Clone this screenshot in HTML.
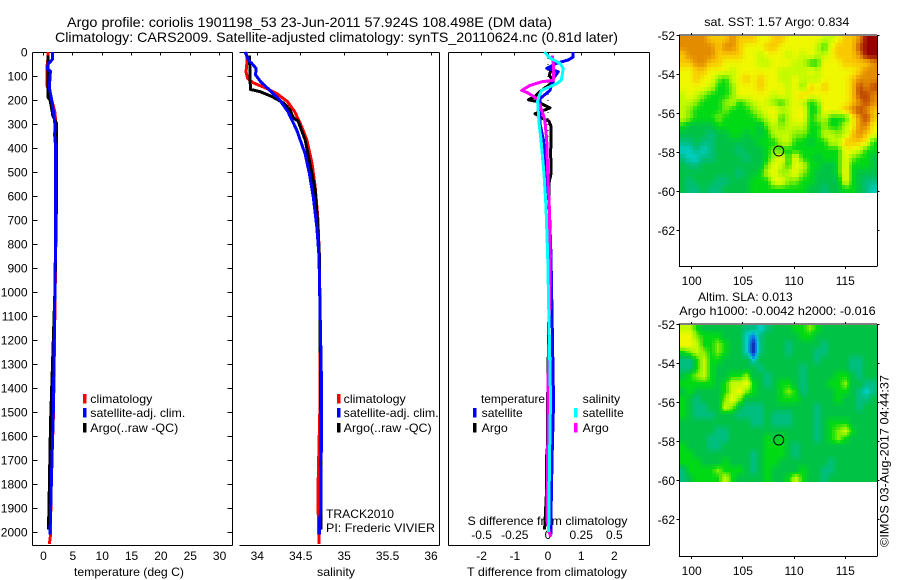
<!DOCTYPE html>
<html lang="en">
<head>
<meta charset="utf-8">
<title>Argo profile 1901198_53</title>
<style>
html,body{margin:0;padding:0;background:#fff;}
svg{display:block;}
text{font-family:"Liberation Sans",sans-serif;font-size:12px;fill:#000;}
.title{font-size:14px;}
</style>
</head>
<body>
<svg id="chart" xmlns="http://www.w3.org/2000/svg" width="900" height="580" viewBox="0 0 900 580">
  <text class="title" x="67" y="27" textLength="485" lengthAdjust="spacingAndGlyphs">Argo profile: coriolis 1901198_53 23-Jun-2011 57.924S 108.498E (DM data)</text>
  <text class="title" x="55" y="42" textLength="563" lengthAdjust="spacingAndGlyphs">Climatology: CARS2009. Satellite-adjusted climatology: synTS_20110624.nc (0.81d later)</text>

  <text x="74" y="576" textLength="110" lengthAdjust="spacingAndGlyphs">temperature (deg C)</text>
  <text x="317" y="576" textLength="38" lengthAdjust="spacingAndGlyphs">salinity</text>
  <text x="467" y="576" textLength="160" lengthAdjust="spacingAndGlyphs">T difference from climatology</text>
  <text x="467.5" y="525" textLength="160" lengthAdjust="spacingAndGlyphs">S difference from climatology</text>

  <text x="90.3" y="403" textLength="62" lengthAdjust="spacingAndGlyphs">climatology</text>
  <text x="90.3" y="417" textLength="95" lengthAdjust="spacingAndGlyphs">satellite-adj. clim.</text>
  <text x="90.3" y="432" textLength="88" lengthAdjust="spacingAndGlyphs">Argo(..raw -QC)</text>
  <rect x="83" y="394" width="3.5" height="9.5" fill="#f00"/>
  <rect x="83" y="408" width="3.5" height="9.5" fill="#00f"/>
  <rect x="83" y="423" width="3.5" height="9.5" fill="#000"/>

  <text x="343.7" y="403" textLength="62" lengthAdjust="spacingAndGlyphs">climatology</text>
  <text x="343.7" y="417" textLength="95" lengthAdjust="spacingAndGlyphs">satellite-adj. clim.</text>
  <text x="343.7" y="432" textLength="88" lengthAdjust="spacingAndGlyphs">Argo(..raw -QC)</text>
  <rect x="337" y="394" width="3.5" height="9.5" fill="#f00"/>
  <rect x="337" y="408" width="3.5" height="9.5" fill="#00f"/>
  <rect x="337" y="423" width="3.5" height="9.5" fill="#000"/>

  <text x="326" y="518" textLength="68" lengthAdjust="spacingAndGlyphs">TRACK2010</text>
  <text x="326" y="532" textLength="109" lengthAdjust="spacingAndGlyphs">PI: Frederic VIVIER</text>

  <text x="481" y="403" textLength="64" lengthAdjust="spacingAndGlyphs">temperature</text>
  <text x="481.7" y="417" textLength="41" lengthAdjust="spacingAndGlyphs">satellite</text>
  <text x="481.7" y="432" textLength="26" lengthAdjust="spacingAndGlyphs">Argo</text>
  <rect x="473" y="408" width="3.5" height="9.5" fill="#00f"/>
  <rect x="473" y="423" width="3.5" height="9.5" fill="#000"/>
  <text x="582.7" y="403" textLength="37.5" lengthAdjust="spacingAndGlyphs">salinity</text>
  <text x="582.7" y="417" textLength="41" lengthAdjust="spacingAndGlyphs">satellite</text>
  <text x="582.7" y="432" textLength="26" lengthAdjust="spacingAndGlyphs">Argo</text>
  <rect x="574" y="408" width="3.5" height="9.5" fill="#0ff"/>
  <rect x="574" y="423" width="3.5" height="9.5" fill="#f0f"/>

  <text x="704.3" y="26" textLength="145" lengthAdjust="spacingAndGlyphs">sat. SST: 1.57 Argo: 0.834</text>
  <text x="698" y="301" textLength="94.7" lengthAdjust="spacingAndGlyphs">Altim. SLA: 0.013</text>
  <text x="679.3" y="315" textLength="196.4" lengthAdjust="spacingAndGlyphs">Argo h1000: -0.0042 h2000: -0.016</text>
  <text transform="translate(888.5,547) rotate(-90)" textLength="172" lengthAdjust="spacingAndGlyphs">©IMOS 03-Aug-2017 04:44:37</text>
</svg>
<script>
// ---------- shared axis tick data ----------
const depthTicks = [0,100,200,300,400,500,600,700,800,900,1000,1100,1200,1300,1400,1500,1600,1700,1800,1900,2000];
const tempTicks = [0,5,10,15,20,25,30];
const salTicks = [34,34.5,35,35.5,36];
const salTickLabels = ['34','34.5','35','35.5','36'];
const tDiffTicks = [-2,-1,0,1,2];
const sDiffTicks = [-0.5,-0.25,0,0.25,0.5];
const sDiffTickLabels = ['-0.5','-0.25','0','0.25','0.5'];
const lonTicks = [100,105,110,115];
const latTicks = [-52,-54,-56,-58,-60,-62];

// ---------- temperature profiles ----------
const tempClimDepth = [0,20,60,140,200,250,300,400,800,1500,1800,2000,2020,2050];
const tempClimValue = [0.8,0.8,0.6,0.6,1.4,1.95,2.1,2.2,2.1,1.7,1.3,1.2,1.15,1.0];
const tempArgoDepth = [15,100,190,200,250,260,300,640,1000,1550,1800,1990];
const tempArgoValue = [0.8,0.8,0.8,1.1,1.5,1.5,2.25,2.2,1.95,1.2,1.0,0.85];
const tempSatDepth = [0,30,50,70,80,100,150,200,250,300,350,400,800,1500,1650,1850,2010];
const tempSatValue = [1.55,1.55,0.8,0.65,1.2,1.1,1.0,1.4,1.7,1.95,1.9,2.07,2.05,1.67,1.5,1.28,1.1];

// ---------- salinity profiles ----------
const salClimDepth = [0,33,82,110,128,137,151,172,206,248,310,366,463,560,685,850,1000,1500,1800,1900,2050];
const salClimValue = [33.87,33.885,33.87,33.89,33.95,34.01,34.10,34.22,34.345,34.43,34.51,34.57,34.63,34.665,34.695,34.715,34.72,34.72,34.70,34.70,34.71];
const salArgoDepth = [15,156,165,185,212,240,274,288,366,435,573,712,850,1650,1990];
const salArgoValue = [33.91,33.92,34.03,34.165,34.30,34.375,34.415,34.47,34.55,34.59,34.665,34.695,34.715,34.735,34.735];
const salSatDepth = [0,33,47,68,96,124,160,201,250,326,424,507,604,729,850,1400,1650,1700,1900,1950,2010];
const salSatValue = [33.86,33.895,33.935,33.985,33.98,34.04,34.145,34.26,34.355,34.455,34.55,34.60,34.645,34.685,34.71,34.74,34.74,34.73,34.735,34.715,34.715];

// ---------- difference profiles ----------
const zeroLineDepth = [0,2050];
const zeroLineValue = [0,0];
const tDiffArgoDepth = [37,68,96,124,165,185,199,206,233,257,275,288,310,424,507,546,850,1550,1650,1700,1850,1980,1990];
const tDiffArgoValue = [0.2,0.11,0.04,0.16,-0.24,-0.39,-0.59,-0.34,0.06,-0.39,-0.19,0.03,0.09,0.08,0.09,0.03,0.05,-0.02,-0.02,-0.05,-0.05,-0.1,-0.1];
const tDiffSatDepth = [0,21,33,47,68,82,110,160,194,299,366,507,646,850,1400,1500,1650,1850,2010];
const tDiffSatValue = [0.76,0.76,0.61,0.26,-0.04,0.31,0.16,0.06,-0.24,-0.24,-0.14,-0.04,0.04,0.09,0.16,0.16,0.13,0.1,0.09];
const sDiffArgoDepth = [15,65,118,124,139,160,171,194,222,264,285,366,507,646,850,1400,1550,1950,2000,2020];
const sDiffArgoValue = [0.033,0.043,0.04,-0.048,-0.135,-0.198,-0.15,-0.085,-0.06,-0.035,-0.023,-0.01,-0.002,0.01,0.017,0,0,-0.008,0.01,0.02];
const sDiffSatDepth = [0,25,47,68,118,132,160,180,206,299,366,507,646,850,1400,1500,1650,1900,2000];
const sDiffSatValue = [-0.028,0.015,0.09,0.115,0.10,0.065,-0.048,-0.065,-0.078,-0.067,-0.053,-0.03,-0.015,-0.002,0.017,0.017,0.013,0.007,0.005];

// ---------- map grids: 28 columns, 20 rows, north to south (colour-scale units) ----------
const sstGrid = [
[8,8,8,8,7,7,7,8,7,7,7,6,6,7,7,6,6,6,6,6,5,5,6,7,7,8,10,10],
[8,8,8,8,8,7,8,8,7,6,6,6,7,7,6,6,6,6,6,5,3,6,7,7,7,9,10,10],
[7,8,8,8,8,7,7,7,7,6,6,5,6,6,6,5,6,5,6,5,5,6,7,7,7,8,10,10],
[7,7,8,8,7,7,6,6,6,6,6,5,5,6,6,6,5,5,3,3,6,6,6,7,7,7,7,8],
[6,6,7,7,6,6,6,5,6,6,6,6,6,6,5,5,5,5,6,5,6,6,6,6,6,7,8,8],
[6,6,7,6,6,4,3,5,6,7,6,7,6,6,5,5,6,5,5,5,6,6,6,6,7,8,8,8],
[6,6,6,6,5,3,3,4,6,6,6,7,6,6,6,5,6,4,7,6,7,6,6,6,7,9,8,9],
[5,6,5,4,3,3,3,4,6,6,6,6,6,5,6,5,6,7,6,6,6,6,6,6,7,9,9,8],
[5,5,4,3,3,3,4,5,3,4,5,6,5,4,3,5,6,5,3,4,6,6,6,6,7,8,9,8],
[5,4,3,3,3,3,4,3,3,3,4,5,6,6,5,5,6,6,3,3,6,6,6,7,8,9,8,7],
[5,4,3,3,3,4,3,3,3,3,3,4,5,6,3,5,6,6,3,4,5,3,3,3,6,8,9,7],
[3,2,2,2,2,3,3,3,3,3,3,2,4,5,4,5,5,5,3,3,4,3,3,5,6,8,8,6],
[2,2,2,2,1,2,2,3,3,2,3,2,3,5,5,5,4,4,3,3,5,5,4,5,7,8,7,6],
[1,1,2,1,1,2,2,2,2,2,2,3,3,3,5,5,3,3,2,3,3,5,5,7,7,7,6,3],
[0,0,1,0,1,2,2,2,1,2,2,2,3,4,3,3,3,3,3,3,3,3,3,6,6,5,3,3],
[1,0,0,1,1,2,2,2,2,1,2,2,3,5,6,3,6,3,3,2,3,3,3,6,4,3,3,2],
[2,1,1,2,2,2,2,2,2,2,2,2,4,6,5,3,6,5,3,3,2,2,3,6,3,3,3,2],
[2,2,2,2,2,2,2,2,1,2,2,3,5,6,4,5,6,4,3,2,2,2,3,6,3,2,2,2],
[2,1,2,2,2,1,1,2,2,2,3,3,3,6,6,4,4,3,3,2,2,2,2,6,3,2,1,1],
[2,1,1,2,1,1,2,2,2,2,3,3,3,3,3,3,3,3,2,2,1,2,2,3,3,2,1,0]
];
const slaGrid = [
[5,5,3,2,2,2,2,2,2,1,1,0,1,2,2,2,3,3,4,3,2,2,2,2,2,2,2,2],
[6,6,4,3,3,3,2,2,2,0,-1,1,2,2,2,2,2,3,3,2,2,2,2,2,2,2,2,2],
[6,6,5,3,3,4,3,2,2,0,-2,1,2,2,2,1,2,2,2,2,1,2,2,2,2,2,2,2],
[3,4,5,4,3,4,3,2,2,0,-2,1,2,2,2,1,2,2,2,1,1,2,2,2,2,2,2,2],
[1,1,3,5,3,3,2,2,2,2,0,2,2,2,2,2,2,2,2,1,2,2,2,2,1,1,2,2],
[1,1,3,5,3,2,2,2,2,2,2,1,2,2,2,2,2,1,2,2,2,2,2,2,1,1,2,2],
[2,3,4,5,3,2,2,3,3,4,2,2,1,2,2,2,2,1,2,2,2,2,3,3,2,1,2,2],
[3,3,3,3,3,2,3,5,5,6,3,2,1,2,3,3,2,1,2,2,2,3,3,4,2,2,1,1],
[2,3,2,2,2,2,3,5,6,4,3,2,2,2,3,4,3,1,2,2,2,2,3,3,2,1,0,1],
[3,2,1,2,2,2,4,6,4,2,2,2,2,2,3,3,3,2,2,2,2,2,3,2,2,1,1,2],
[3,2,1,1,2,2,5,4,2,1,1,1,2,2,2,2,2,2,2,1,2,2,2,2,2,1,2,2],
[3,2,1,1,1,2,2,2,1,1,1,1,2,1,1,1,2,2,2,1,2,2,2,2,2,2,2,2],
[2,2,2,2,2,2,2,2,2,2,1,1,2,1,1,1,2,2,2,1,2,3,3,3,2,2,2,2],
[2,2,2,2,2,1,1,2,2,2,2,2,2,2,2,2,2,2,2,1,2,3,4,5,3,2,2,2],
[2,2,2,2,1,1,1,2,2,2,2,2,3,2,3,2,2,2,2,1,2,3,4,3,2,2,2,2],
[3,2,2,2,1,1,2,2,2,2,2,2,3,3,3,2,1,2,2,2,2,2,2,2,2,2,2,2],
[3,3,2,2,2,2,2,2,2,2,1,2,3,3,3,2,1,2,2,2,2,2,2,2,2,2,2,2],
[3,3,3,2,2,2,3,2,2,2,1,2,3,3,2,2,2,2,2,2,2,1,2,2,2,2,2,2],
[1,3,3,3,3,4,3,3,3,2,1,2,3,2,2,2,2,3,2,2,1,1,2,2,2,2,2,2],
[1,2,3,3,3,3,5,3,2,2,2,2,3,2,2,3,5,3,2,2,1,2,2,2,2,2,2,2]
];
const argoLon = 108.498;
const argoLat = -57.924;

// ---------- drawing ----------
const svg = document.getElementById('chart');
const NS = 'http://www.w3.org/2000/svg';

function shape(tag, attrs) {
  const el = document.createElementNS(NS, tag);
  for (const k in attrs) el.setAttribute(k, attrs[k]);
  svg.appendChild(el);
  return el;
}
function axisLine(name, x1, y1, x2, y2) {
  const el = shape('line', {x1: x1, y1: y1, x2: x2, y2: y2, stroke: '#000', 'stroke-width': 1, 'shape-rendering': 'crispEdges'});
  
  
  return el;
}
function label(name, str, x, y, anchor) {
  const el = shape('text', {x: x, y: y, 'text-anchor': anchor});
  el.textContent = str;
  
  
  return el;
}
function profile(name, depths, values, xScale, color, width, dash) {
  const pts = depths.map((d, i) => xScale(values[i]).toFixed(1) + ',' + yDepth(d).toFixed(1)).join(' ');
  const el = shape('polyline', {points: pts, fill: 'none', stroke: color, 'stroke-width': width, 'stroke-linejoin': 'round', 'shape-rendering': 'crispEdges'});
  if (dash) el.setAttribute('stroke-dasharray', dash);
  
  
  return el;
}

const yDepth = d => 52 + d * 0.24;
const xTemp = t => 43.5 + t * 5.87;
const xSal = s => 257.3 + (s - 34) * 86.85;
const xTDiff = t => 548 + t * 33.2;
const xSDiff = s => 548 + s * 132.8;

const PLOT_TOP = 52.5, PLOT_BOTTOM = 545.5;

// panel 1: temperature
axisLine('temperature-panel-top-axis', 32.5, PLOT_TOP, 232.5, PLOT_TOP);
axisLine('temperature-panel-bottom-axis', 32.5, PLOT_BOTTOM, 232.5, PLOT_BOTTOM);
axisLine('temperature-panel-left-axis', 32.5, PLOT_TOP, 32.5, PLOT_BOTTOM);
axisLine('temperature-panel-right-axis', 232.5, PLOT_TOP, 232.5, PLOT_BOTTOM);
depthTicks.forEach(d => {
  const y = Math.floor(yDepth(d)) + 0.5;
  axisLine('depth-tick-left', 32.5, y, 37.5, y);
  axisLine('depth-tick-right', 227.5, y, 232.5, y);
  label('depth-tick-label', String(d), 27.5, yDepth(d) + 4.5, 'end');
});
tempTicks.forEach(t => {
  const x = Math.floor(xTemp(t)) + 0.5;
  axisLine('temperature-tick', x, PLOT_TOP, x, PLOT_TOP + 3);
  label('temperature-tick-label', String(t), xTemp(t), 560, 'middle');
});
profile('temperature-climatology-line', tempClimDepth, tempClimValue, xTemp, '#f00', 3);
profile('temperature-argo-line', tempArgoDepth, tempArgoValue, xTemp, '#000', 3);
profile('temperature-satellite-line', tempSatDepth, tempSatValue, xTemp, '#00f', 3);

// panel 2: salinity
axisLine('salinity-panel-top-axis', 239.5, PLOT_TOP, 439.5, PLOT_TOP);
axisLine('salinity-panel-bottom-axis', 239.5, PLOT_BOTTOM, 439.5, PLOT_BOTTOM);
axisLine('salinity-panel-right-axis', 439.5, PLOT_TOP, 439.5, PLOT_BOTTOM);
salTicks.forEach((s, i) => {
  const x = Math.floor(xSal(s)) + 0.5;
  axisLine('salinity-tick', x, PLOT_TOP, x, PLOT_TOP + 3);
  label('salinity-tick-label', salTickLabels[i], xSal(s), 560, 'middle');
});
profile('salinity-climatology-line', salClimDepth, salClimValue, xSal, '#f00', 3);
profile('salinity-argo-line', salArgoDepth, salArgoValue, xSal, '#000', 3);
profile('salinity-satellite-line', salSatDepth, salSatValue, xSal, '#00f', 3);

// panel 3: differences
axisLine('difference-panel-top-axis', 448.5, PLOT_TOP, 649.5, PLOT_TOP);
axisLine('difference-panel-bottom-axis', 448.5, PLOT_BOTTOM, 649.5, PLOT_BOTTOM);
axisLine('difference-panel-left-axis', 448.5, PLOT_TOP, 448.5, PLOT_BOTTOM);
axisLine('difference-panel-right-axis', 649.5, PLOT_TOP, 649.5, PLOT_BOTTOM);
tDiffTicks.forEach(t => {
  const x = Math.floor(xTDiff(t)) + 0.5;
  axisLine('t-difference-tick', x, PLOT_TOP, x, PLOT_TOP + 3);
  label('t-difference-tick-label', String(t), xTDiff(t), 560, 'middle');
});
sDiffTicks.forEach((s, i) => {
  label('s-difference-tick-label', sDiffTickLabels[i], xSDiff(s), 539, 'middle');
});
profile('difference-zero-line', zeroLineDepth, zeroLineValue, xTDiff, '#000', 1, '1 5');
profile('t-difference-argo-line', tDiffArgoDepth, tDiffArgoValue, xTDiff, '#000', 3);
profile('t-difference-satellite-line', tDiffSatDepth, tDiffSatValue, xTDiff, '#00f', 3);
profile('s-difference-argo-line', sDiffArgoDepth, sDiffArgoValue, xSDiff, '#f0f', 3);
profile('s-difference-satellite-line', sDiffSatDepth, sDiffSatValue, xSDiff, '#0ff', 3);

// maps
function scaleColor(v) {
  const stops = [[-2,20,50,185],[-1,0,130,225],[0,0,205,195],[1,0,190,125],[2,0,195,70],[3,0,218,20],[4,130,238,0],[5,195,250,0],[6,240,248,0],[7,250,200,0],[8,228,140,0],[9,190,70,0],[10,150,0,0]];
  const c = Math.max(-2, Math.min(10, v));
  for (let i = 0; i < stops.length - 1; i++) {
    const a = stops[i], b = stops[i + 1];
    if (c <= b[0]) {
      const f = (c - a[0]) / (b[0] - a[0]);
      return 'rgb(' + [1, 2, 3].map(k => Math.round(a[k] + (b[k] - a[k]) * f)).join(',') + ')';
    }
  }
  return 'rgb(150,0,0)';
}
function sampleGrid(grid, u, v) {
  const nRows = grid.length, nCols = grid[0].length;
  const cu = Math.max(0, Math.min(nCols - 1, u));
  const cv = Math.max(0, Math.min(nRows - 1, v));
  const c0 = Math.floor(cu), r0 = Math.floor(cv);
  const c1 = Math.min(nCols - 1, c0 + 1), r1 = Math.min(nRows - 1, r0 + 1);
  const fu = cu - c0, fv = cv - r0;
  return (grid[r0][c0] * (1 - fu) + grid[r0][c1] * fu) * (1 - fv) + (grid[r1][c0] * (1 - fu) + grid[r1][c1] * fu) * fv;
}
const xLon = lon => 691.7 + (lon - 100) * 10.24;
const LON_W = 98.78, LON_E = 118.12, LAT_S_FILL = -60.08;

function drawMap(prefix, grid, top, bottom, sub) {
  const yLat = lat => top + (-52 - lat) * 19.5;
  const nRows = grid.length;
  const nCols = grid[0].length;
  const dLon = (LON_E - LON_W) / (nCols * sub);
  const dLat = (-52 - LAT_S_FILL) / (nRows * sub);
  for (let r = 0; r < nRows * sub; r++) {
    for (let c = 0; c < nCols * sub; c++) {
      const x0 = Math.round(xLon(LON_W + c * dLon));
      const x1 = Math.round(xLon(LON_W + (c + 1) * dLon));
      const y0 = Math.round(yLat(-52 - r * dLat));
      const y1 = Math.round(yLat(-52 - (r + 1) * dLat));
      const val = sampleGrid(grid, (c + 0.5) / sub - 0.5, (r + 0.5) / sub - 0.5);
      const el = shape('rect', {x: x0, y: y0, width: x1 - x0, height: y1 - y0, fill: scaleColor(val), 'shape-rendering': 'crispEdges'});
      
      
    }
  }
  const L = xLon(LON_W), R = xLon(LON_E);
  axisLine(prefix + '-map-top-axis', L, top - 0.5, R, top - 0.5);
  axisLine(prefix + '-map-bottom-axis', L, bottom, R, bottom);
  axisLine(prefix + '-map-left-axis', Math.floor(L) + 0.5, top, Math.floor(L) + 0.5, bottom);
  axisLine(prefix + '-map-right-axis', Math.floor(R) + 0.5, top, Math.floor(R) + 0.5, bottom);
  lonTicks.forEach(lon => {
    const x = Math.floor(xLon(lon)) + 0.5;
    axisLine(prefix + '-map-lon-tick-top', x, top - 2.5, x, top);
    axisLine(prefix + '-map-lon-tick-bottom', x, bottom, x, bottom + 2.5);
    label(prefix + '-map-lon-label', String(lon), xLon(lon), bottom + 18.5, 'middle');
  });
  latTicks.forEach(lat => {
    const y = Math.floor(yLat(lat)) + 0.5;
    axisLine(prefix + '-map-lat-tick-left', L - 2.5, y, L, y);
    axisLine(prefix + '-map-lat-tick-right', R, y, R + 2.5, y);
    label(prefix + '-map-lat-label', String(lat), 675, yLat(lat) + 4.5, 'end');
  });
  const marker = shape('circle', {cx: xLon(argoLon), cy: yLat(argoLat), r: 5, fill: 'none', stroke: '#000', 'stroke-width': 1});
  
  
}
drawMap('sst', sstGrid, 35.5, 266.5, 2);
drawMap('sla', slaGrid, 324.5, 556.5, 3);
</script>
</body>
</html>
